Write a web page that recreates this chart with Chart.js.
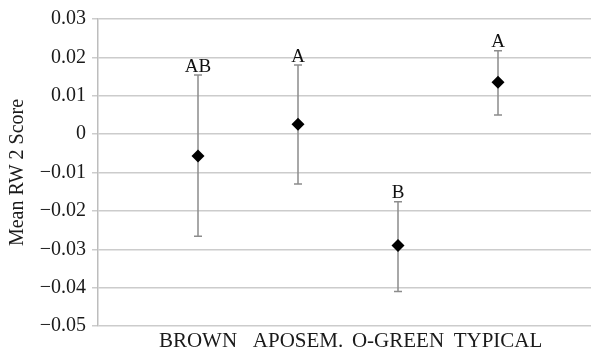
<!DOCTYPE html>
<html lang="en">
<head>
    <meta charset="UTF-8">
    <title>Mean RW 2 Score</title>
    <script src="https://cdn.jsdelivr.net/npm/chart.js"></script>
    <style>
        html, body { margin: 0; padding: 0; background: #fff; overflow: hidden; }
        #wrap { width: 591px; height: 354px; }
    </style>
</head>
<body>
    <div id="wrap"><canvas id="chart"></canvas></div>

    <script>
        // data
        const categories = ['BROWN', 'APOSEM.', 'O-GREEN', 'TYPICAL'];
        const means = [-0.0057, 0.0026, -0.0290, 0.0135];
        const upper = [0.0154, 0.0180, -0.0176, 0.0217];
        const lower = [-0.0266, -0.0130, -0.0410, 0.0050];
        const groupLetters = ['AB', 'A', 'B', 'A'];
        const yTicks = [0.03, 0.02, 0.01, 0, -0.01, -0.02, -0.03, -0.04, -0.05];

        const serif = '"Liberation Serif", "DejaVu Serif", serif';

        // error bars + letters, positioned through the chart scales
        const errorBars = {
            id: 'errorBars',
            beforeDatasetsDraw(chart) {
                const { ctx, scales: { x, y } } = chart;
                ctx.save();
                ctx.strokeStyle = '#8c8c8c';
                ctx.lineWidth = 1.5;
                categories.forEach((c, i) => {
                    const px = x.getPixelForValue(i + 1);
                    const top = y.getPixelForValue(upper[i]);
                    const bot = y.getPixelForValue(lower[i]);
                    ctx.beginPath();
                    ctx.moveTo(px, top); ctx.lineTo(px, bot);
                    ctx.moveTo(px - 4, top); ctx.lineTo(px + 4, top);
                    ctx.moveTo(px - 4, bot); ctx.lineTo(px + 4, bot);
                    ctx.stroke();
                });
                ctx.restore();
            },
            afterDatasetsDraw(chart) {
                const { ctx, scales: { x, y } } = chart;
                ctx.save();
                ctx.fillStyle = '#111';
                ctx.font = '19px ' + serif;
                ctx.textAlign = 'center';
                ctx.textBaseline = 'bottom';
                groupLetters.forEach((t, i) => {
                    ctx.fillText(t, x.getPixelForValue(i + 1), y.getPixelForValue(upper[i]) + 1);
                });
                ctx.restore();
            }
        };

        new Chart(document.getElementById('chart'), {
            type: 'scatter',
            data: {
                datasets: [{
                    data: means.map((m, i) => ({ x: i + 1, y: m })),
                    pointStyle: 'rectRot',
                    pointRadius: 6.5,
                    backgroundColor: '#000',
                    borderColor: '#000',
                    borderWidth: 0
                }]
            },
            plugins: [errorBars],
            options: {
                responsive: true,
                maintainAspectRatio: false,
                animation: false,
                layout: { autoPadding: false, padding: { top: 19, right: 0, left: 0, bottom: 0 } },
                plugins: {
                    legend: { display: false },
                    tooltip: { enabled: false }
                },
                scales: {
                    x: {
                        type: 'linear',
                        min: 0,
                        max: 4.93,
                        afterBuildTicks: s => { s.ticks = categories.map((c, i) => ({ value: i + 1 })); },
                        afterFit: s => { s.height = 28; },
                        grid: { display: false, drawTicks: false },
                        border: { display: false },
                        ticks: {
                            color: '#1a1a1a',
                            font: { family: serif, size: 21 },
                            padding: 3,
                            maxRotation: 0,
                            autoSkip: false,
                            callback: v => categories[v - 1] || ''
                        }
                    },
                    y: {
                        min: -0.05,
                        max: 0.03,
                        afterBuildTicks: s => { s.ticks = yTicks.map(v => ({ value: v })); },
                        afterFit: s => { s.width = 98; },
                        grid: { color: '#cccccc', lineWidth: 1.5, tickLength: 6 },
                        border: { color: '#bdbdbd', width: 1.5 },
                        title: {
                            display: true,
                            text: 'Mean RW 2 Score',
                            color: '#1a1a1a',
                            font: { family: serif, size: 20 },
                            padding: { top: 6, bottom: 0 }
                        },
                        ticks: {
                            color: '#1a1a1a',
                            font: { family: serif, size: 20 },
                            padding: 6,
                            callback: v => v === 0 ? '0' : (v < 0 ? '\u2212' + Math.abs(v).toFixed(2) : v.toFixed(2))
                        }
                    }
                }
            }
        });
    </script>
</body>
</html>
